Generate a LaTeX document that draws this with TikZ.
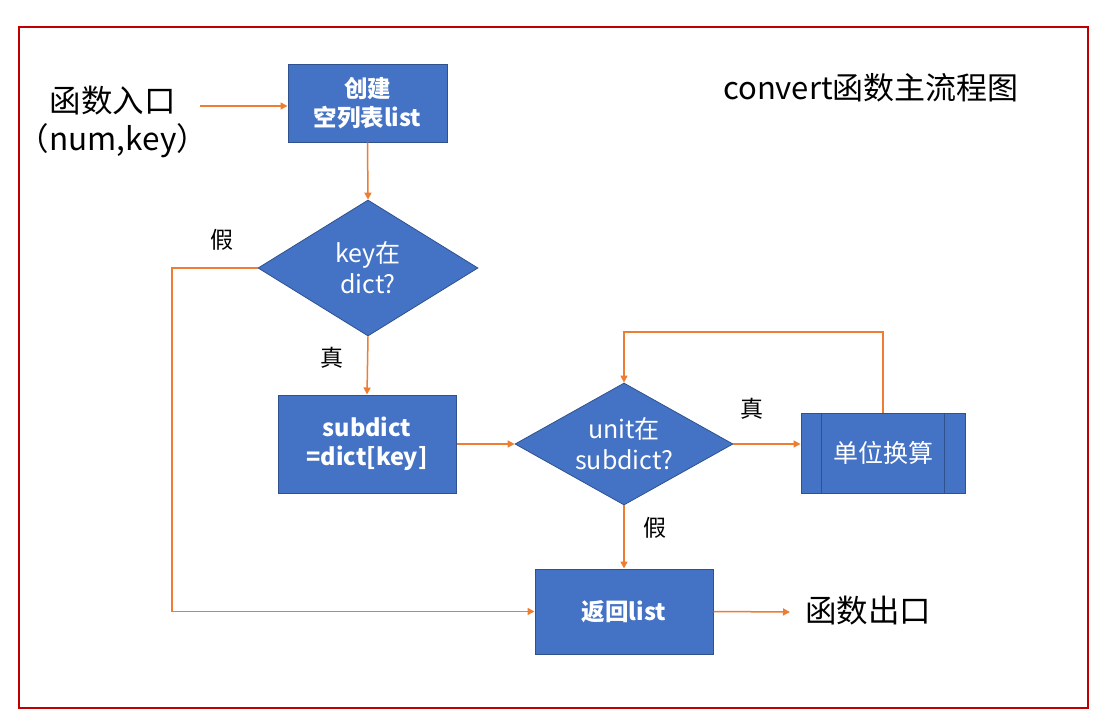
\documentclass[tikz,border=0pt]{standalone}
\usepackage{fontspec}
\setmainfont{Noto Sans CJK SC}
\usetikzlibrary{shapes.geometric,arrows.meta}
\definecolor{boxblue}{HTML}{4472C4}
\definecolor{boxedge}{HTML}{2F528F}
\definecolor{arr}{HTML}{ED7D31}
\definecolor{frame}{HTML}{C00000}
\tikzset{
  proc/.style={draw=boxedge, line width=1pt, fill=boxblue, text=white, font=\fontsize{23.5}{29}\selectfont\bfseries, align=center, inner sep=0pt},
  dec/.style={diamond, draw=boxedge, line width=0.8pt, fill=boxblue, inner sep=0pt},
  dectext/.style={text=white, font=\fontsize{25}{31}\selectfont, align=center, inner sep=0pt},
  flow/.style={draw=arr, line width=1.5pt, -{Triangle[length=7pt,width=7pt]}},
  lbl/.style={font=\fontsize{23}{27}\selectfont, text=black},
  big/.style={font=\fontsize{31.5}{38}\selectfont, text=black, align=center}
}
\begin{document}
\begin{tikzpicture}[x=1pt,y=-1pt]
\useasboundingbox (0,0) rectangle (1109,725);
\fill[white] (0,0) rectangle (1109,725);
\draw[frame, line width=2.5pt] (19,27) rectangle (1088,708);

\node[big] (entry) at (113,122) {函数入口\\（num,key）};
\node[font=\fontsize{31}{36}\selectfont] (title) at (871,88) {convert函数主流程图};

\node[proc, minimum width=159pt, minimum height=77pt] (create) at (367.5,103.5) {创建\\空列表list};
\node[dec, minimum width=220pt, minimum height=136pt] (d1) at (368,268) {};
\node[dectext] (d1t) at (d1) {key在\\dict?};
\node[proc, minimum width=178pt, minimum height=98pt] (sub) at (367,444) {subdict\\=dict[key]};
\node[dec, minimum width=218pt, minimum height=122pt] (d2) at (624,444) {};
\node[dectext] (d2t) at (d2) {unit在\\subdict?};
\node[proc, font=\fontsize{25}{30}\selectfont, minimum width=164pt, minimum height=80pt] (conv) at (883,453) {单位换算};
\draw[boxedge, line width=1pt] ([xshift=21pt]conv.north west) -- ([xshift=21pt]conv.south west);
\draw[boxedge, line width=1pt] ([xshift=-21pt]conv.north east) -- ([xshift=-21pt]conv.south east);
\node[proc, minimum width=178pt, minimum height=85pt] (ret) at (624,611.5) {返回list};
\node[big] (exit) at (868,611) {函数出口};

\coordinate (ein) at (200,106);
\draw[flow] (ein) -- (create.west |- ein);
\draw[flow] (create.south) -- (d1.north);
\draw[flow] (d1.south) -- (sub.north);
\draw[flow] (sub.east) -- (d2.west);
\draw[flow] (d2.east) -- (conv.west |- d2.east);
\draw[flow] (d2.south) -- (ret.north);
\coordinate (eout) at (790,612);
\draw[flow] (ret.east) -- (eout);
\draw[flow] (d1.west) -- (172,268) |- (ret.west);
\draw[flow] (conv.north) -- (883,332) -| (d2.north);

\node[lbl] (f1) at (222,240) {假};
\node[lbl] (t1) at (332,358) {真};
\node[lbl] (t2) at (752,409) {真};
\node[lbl] (f2) at (655,528) {假};
\end{tikzpicture}
\end{document}
